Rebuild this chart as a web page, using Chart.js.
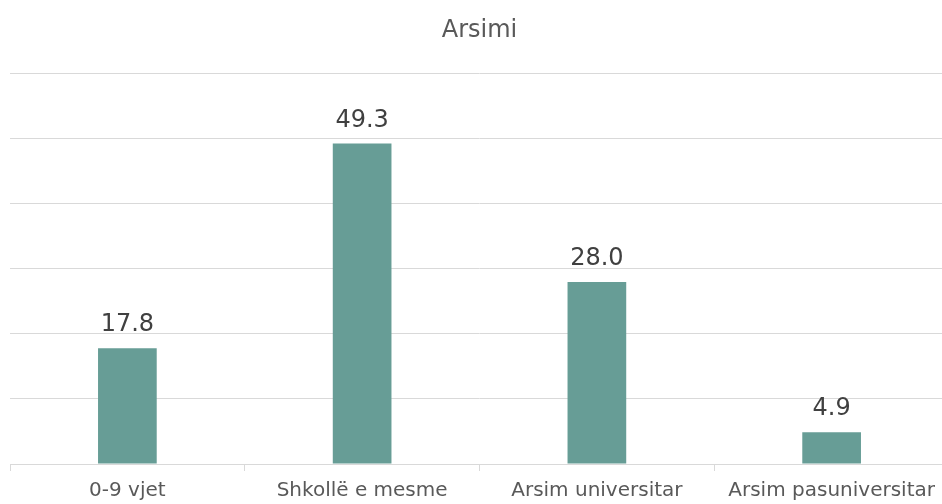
<!DOCTYPE html>
<html>
<head>
<meta charset="utf-8">
<script src="https://cdn.jsdelivr.net/npm/chart.js@4/dist/chart.umd.min.js"></script>
<style>
html,body{margin:0;padding:0;background:#fff;overflow:hidden;width:942px;height:504px;}
#wrap{position:absolute;left:0;top:0;width:949px;height:504px;}
</style>
</head>
<body>
<div id="wrap"><canvas id="c"></canvas></div>
<script>
const categories = ["0-9 vjet", "Shkollë e mesme", "Arsim universitar", "Arsim pasuniversitar"];
const values = [17.8, 49.3, 28.0, 4.9];
const chartTitle = "Arsimi";

const FONT = "'DejaVu Sans', sans-serif";

const labelPlugin = {
  id: 'valueLabels',
  afterDatasetsDraw(chart) {
    const ctx = chart.ctx;
    const meta = chart.getDatasetMeta(0);
    ctx.save();
    ctx.font = "24px " + FONT;
    ctx.fillStyle = "#404040";
    ctx.textAlign = "center";
    ctx.textBaseline = "bottom";
    meta.data.forEach((bar, i) => {
      ctx.fillText(values[i].toFixed(1), bar.x, bar.y - 11);
    });
    ctx.restore();
  }
};

new Chart(document.getElementById('c'), {
  type: 'bar',
  data: {
    labels: categories,
    datasets: [{
      data: values,
      backgroundColor: '#679d96',
      borderWidth: 0,
      barPercentage: 0.25,
      categoryPercentage: 1.0
    }]
  },
  plugins: [labelPlugin],
  options: {
    responsive: true,
    maintainAspectRatio: false,
    animation: false,
    devicePixelRatio: 1,
    layout: { padding: { left: 10, right: 0, top: 16, bottom: -7 } },
    plugins: {
      legend: { display: false },
      tooltip: { enabled: false },
      title: {
        display: true,
        text: chartTitle,
        color: '#595959',
        font: { family: FONT, size: 24, weight: 'normal', lineHeight: 1.2 },
        padding: { top: 0, bottom: 29 }
      }
    },
    scales: {
      y: {
        min: 0,
        max: 60,
        ticks: { display: false, stepSize: 10 },
        border: { display: false },
        grid: { color: '#d9d9d9', lineWidth: 1, drawTicks: false }
      },
      x: {
        border: { display: true, color: '#d9d9d9', width: 1 },
        grid: { offset: true, drawOnChartArea: false, drawTicks: true, tickLength: 7, color: '#d9d9d9' },
        ticks: { color: '#595959', font: { family: FONT, size: 20, lineHeight: 1.0 }, padding: 10, maxRotation: 0, autoSkip: false }
      }
    }
  }
});
</script>
</body>
</html>
